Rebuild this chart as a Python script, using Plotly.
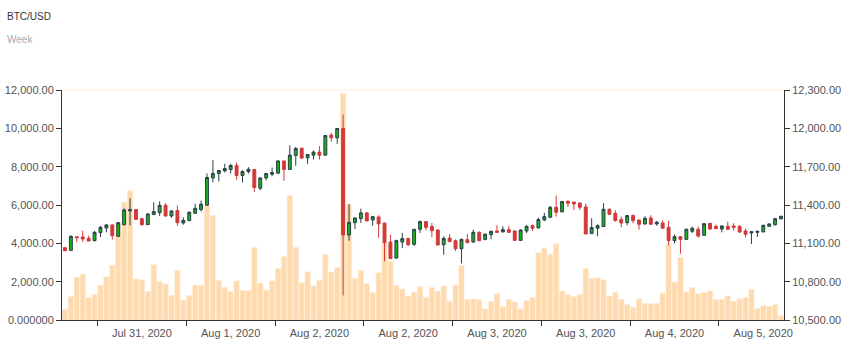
import plotly.graph_objects as go

volume = [540, 1220, 2230, 2390, 1170, 1325, 1815, 2250, 2845, 5050, 6150, 6740, 2145, 2095, 1480, 2880, 2005, 1885, 1290, 2580,
          1045, 1275, 1815, 1795, 5950, 5460, 2060, 1690, 1480, 2040, 1535, 1535, 3785, 1920, 1550, 2040, 2685, 3315, 6490, 3785,
          1955, 2510, 1780, 2060, 3420, 2495, 2740, 11820, 6015, 2165, 2580, 1900, 1430, 2460, 4030, 3070, 1795, 1605, 1240, 1450,
          1745, 1170, 1690, 1500, 1780, 975, 1830, 2845, 1065, 1100, 1065, 575, 960, 1380, 700, 1080, 940, 575, 1010, 1170,
          3505, 3730, 3420, 3975, 1515, 1325, 1220, 1325, 2685, 2165, 2215, 2095, 1240, 1430, 1065, 800, 665, 1100, 855, 855,
          855, 1395, 3940, 1970, 3260, 1465, 1690, 1380, 1430, 1515, 1065, 1065, 1255, 975, 1100, 1170, 1585, 595, 750, 700,
          800, 225]

open_ = [11066, 11045, 11152, 11150, 11139, 11121, 11184, 11220, 11244, 11155, 11246, 11354, 11364, 11293, 11246, 11325, 11340, 11398, 11314, 11356,
         11259, 11278, 11335, 11364, 11398, 11612, 11646, 11667, 11678, 11709, 11631, 11662, 11678, 11531, 11612, 11641, 11649, 11745, 11678, 11787,
         11845, 11769, 11790, 11814, 11790, 11947, 11926, 11999, 11165, 11262, 11293, 11338, 11283, 11306, 11259, 11110, 10985, 11110, 11139, 11092,
         11210, 11270, 11231, 11204, 11089, 11142, 11121, 11058, 11129, 11110, 11186, 11131, 11168, 11197, 11189, 11207, 11197, 11123, 11197, 11238,
         11220, 11283, 11304, 11382, 11346, 11429, 11424, 11416, 11385, 11176, 11218, 11231, 11367, 11335, 11286, 11262, 11317, 11283, 11252, 11299,
         11252, 11259, 11225, 11121, 11152, 11131, 11194, 11210, 11163, 11257, 11233, 11212, 11233, 11236, 11233, 11197, 11181, 11186, 11189, 11233,
         11246, 11291]

high = [11069, 11163, 11152, 11199, 11160, 11197, 11236, 11249, 11249, 11267, 11374, 11453, 11364, 11301, 11335, 11421, 11429, 11414, 11356, 11395,
        11304, 11351, 11411, 11435, 11646, 11751, 11672, 11722, 11722, 11733, 11672, 11696, 11678, 11617, 11649, 11693, 11748, 11745, 11868, 11855,
        11845, 11795, 11827, 11861, 11947, 11965, 12002, 12109, 11408, 11301, 11372, 11346, 11314, 11319, 11259, 11168, 11129, 11181, 11139, 11210,
        11278, 11272, 11259, 11210, 11155, 11173, 11131, 11137, 11171, 11207, 11194, 11178, 11199, 11241, 11233, 11236, 11199, 11210, 11241, 11246,
        11301, 11338, 11393, 11474, 11432, 11435, 11424, 11416, 11411, 11296, 11249, 11414, 11372, 11359, 11309, 11322, 11327, 11283, 11312, 11320,
        11275, 11280, 11278, 11168, 11157, 11215, 11231, 11231, 11257, 11259, 11246, 11241, 11270, 11257, 11241, 11215, 11191, 11194, 11246, 11257,
        11299, 11314]

low = [11039, 11040, 11110, 11110, 11118, 11116, 11150, 11186, 11129, 11150, 11241, 11241, 11283, 11238, 11246, 11325, 11314, 11309, 11301, 11238,
       11246, 11273, 11330, 11348, 11393, 11578, 11584, 11654, 11646, 11597, 11576, 11646, 11503, 11516, 11594, 11625, 11646, 11589, 11678, 11706,
       11761, 11722, 11756, 11756, 11787, 11895, 11879, 10692, 11121, 11212, 11259, 11275, 11238, 11144, 10959, 10977, 10980, 11063, 11079, 11079,
       11181, 11202, 11150, 11084, 11011, 11113, 11040, 10943, 11105, 11105, 11116, 11123, 11131, 11181, 11189, 11181, 11121, 11121, 11181, 11197,
       11220, 11273, 11299, 11309, 11343, 11385, 11361, 11361, 11173, 11176, 11155, 11231, 11322, 11270, 11225, 11241, 11257, 11207, 11246, 11249,
       11238, 11218, 11084, 11100, 11019, 11129, 11181, 11144, 11160, 11207, 11215, 11186, 11204, 11199, 11181, 11147, 11095, 11150, 11189, 11231,
       11238, 11291]

close = [11042, 11155, 11144, 11134, 11118, 11186, 11225, 11244, 11160, 11262, 11361, 11364, 11288, 11246, 11330, 11348, 11398, 11314, 11354, 11262,
         11280, 11343, 11374, 11406, 11615, 11646, 11670, 11685, 11709, 11631, 11662, 11680, 11537, 11612, 11646, 11654, 11745, 11678, 11790, 11842,
         11767, 11795, 11814, 11790, 11944, 11926, 11999, 11165, 11265, 11299, 11338, 11275, 11309, 11252, 11105, 10980, 11121, 11137, 11089, 11210,
         11270, 11225, 11199, 11087, 11139, 11113, 11058, 11131, 11105, 11186, 11121, 11171, 11194, 11186, 11207, 11186, 11123, 11204, 11233, 11218,
         11286, 11309, 11382, 11343, 11427, 11414, 11408, 11382, 11173, 11223, 11238, 11367, 11327, 11278, 11259, 11317, 11278, 11249, 11296, 11249,
         11265, 11218, 11121, 11152, 11131, 11210, 11218, 11157, 11254, 11212, 11215, 11236, 11210, 11225, 11189, 11171, 11191, 11194, 11241, 11252,
         11293, 11312]

x_labels = ["Jul 31, 2020", "Aug 1, 2020", "Aug 2, 2020", "Aug 2, 2020", "Aug 3, 2020", "Aug 3, 2020", "Aug 4, 2020", "Aug 5, 2020"]
x_label_pos = [13, 28, 43, 58, 73, 88, 103, 118]
x_tick_pos = [5.5, 20.5, 35.5, 50.5, 65.5, 80.5, 95.5, 110.5]

vol_ticks = [0, 2000, 4000, 6000, 8000, 10000, 12000]
vol_tick_text = ["0.000000", "2,000.00", "4,000.00", "6,000.00", "8,000.00", "10,000.00", "12,000.00"]
price_ticks = [10500, 10800, 11100, 11400, 11700, 12000, 12300]
price_tick_text = ["10,500.00", "10,800.00", "11,100.00", "11,400.00", "11,700.00", "12,000.00", "12,300.00"]

idx = list(range(len(volume)))

fig = go.Figure()
fig.add_trace(go.Bar(
    x=idx, y=volume, yaxis="y",
    marker=dict(color="#ffdaae", line=dict(color="#ffe9d0", width=0.6)),
    hoverinfo="skip", showlegend=False,
))
fig.add_trace(go.Candlestick(
    x=idx, open=open_, high=high, low=low, close=close, yaxis="y2",
    increasing=dict(line=dict(color="#2b3e4c", width=1), fillcolor="#19b019"),
    decreasing=dict(line=dict(color="#d23a3a", width=1), fillcolor="#d23a3a"),
    whiskerwidth=0, showlegend=False,
))

axis_font = dict(family="Liberation Sans, Arial, sans-serif", size=11, color="#545454")

fig.update_layout(
    width=857, height=345,
    margin=dict(l=62, r=73, t=90, b=25, pad=0),
    paper_bgcolor="white", plot_bgcolor="white",
    bargap=0.12,
    showlegend=False,
    font=axis_font,
    xaxis=dict(
        range=[-0.5, len(volume) - 0.5], automargin=False,
        rangeslider=dict(visible=False),
        showgrid=False, zeroline=False,
        showline=True, linecolor="#333", linewidth=1,
        tickmode="array", tickvals=x_label_pos, ticktext=x_labels,
        ticks="", tickfont=axis_font, ticklabelstandoff=3,
        minor=dict(tickmode="array", tickvals=x_tick_pos, ticks="outside",
                   ticklen=5, tickcolor="#333", tickwidth=1, showgrid=False),
    ),
    yaxis=dict(
        range=[0, 12000], side="left", automargin=False,
        showgrid=False, zeroline=False,
        showline=True, linecolor="#333", linewidth=1,
        tickmode="array", tickvals=vol_ticks, ticktext=vol_tick_text,
        ticks="outside", ticklen=5, tickcolor="#333", tickfont=axis_font,
    ),
    yaxis2=dict(
        range=[10500, 12300], side="right", overlaying="y", automargin=False,
        showgrid=False, zeroline=False,
        showline=True, linecolor="#333", linewidth=1,
        tickmode="array", tickvals=price_ticks, ticktext=price_tick_text,
        ticks="outside", ticklen=5, tickcolor="#333", tickfont=axis_font,
    ),
    shapes=[dict(type="line", xref="paper", yref="paper", x0=0, x1=1, y0=1, y1=1,
                 line=dict(color="#fff5ec", width=2), layer="below")],
    annotations=[
        dict(text="BTC/USD", xref="paper", yref="paper", x=-57/722, y=1 + 73/229.5,
             xanchor="left", yanchor="middle", showarrow=False,
             font=dict(family="Liberation Sans, Arial, sans-serif", size=10, color="#333")),
        dict(text="Week", xref="paper", yref="paper", x=-57/722, y=1 + 50/229.5,
             xanchor="left", yanchor="middle", showarrow=False,
             font=dict(family="Liberation Sans, Arial, sans-serif", size=10, color="#aaaaaa")),
    ],
)

fig.write_html("out.html")
